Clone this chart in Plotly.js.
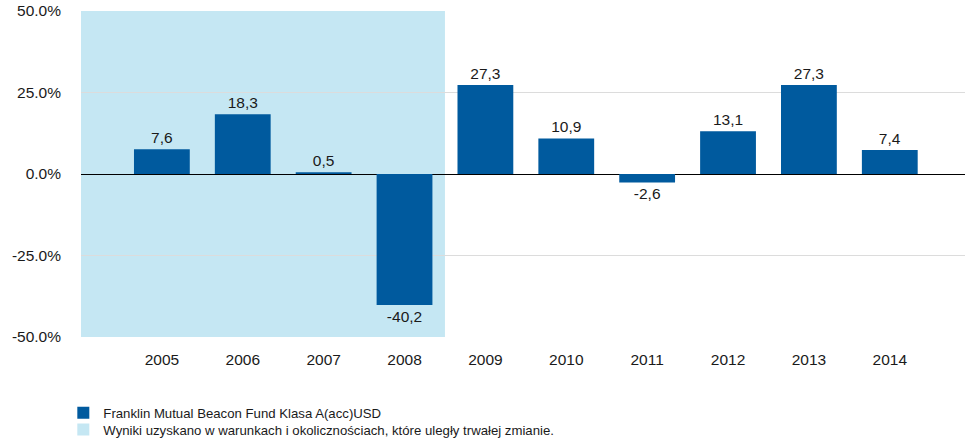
<!DOCTYPE html>
<html>
<head>
<meta charset="utf-8">
<script src="https://cdn.plot.ly/plotly-3.0.1.min.js"></script>
<style>html,body{margin:0;padding:0;background:#fff;}#chart{width:965px;height:446px;}</style>
</head>
<body>
<div id="chart"></div>
<script>
const years = [2005, 2006, 2007, 2008, 2009, 2010, 2011, 2012, 2013, 2014];
const returns = [7.6, 18.3, 0.5, -40.2, 27.3, 10.9, -2.6, 13.1, 27.3, 7.4];
const seriesName = 'Franklin Mutual Beacon Fund Klasa A(acc)USD';
const shadeName = 'Wyniki uzyskano w warunkach i okolicznościach, które uległy trwałej zmianie.';
const shadeStart = 2004;
const shadeEnd = 2008.5;
const yTicks = [-50, -25, 0, 25, 50];
const yTickLabels = ['-50.0%', '-25.0%', '0.0%', '25.0%', '50.0%'];

const FONT = '"Liberation Sans Narrow", "Arial Narrow", "Liberation Sans", Arial, sans-serif';
const BAR = '#005a9e';
const SHADE = '#c5e7f3';

const labels = returns.map(v => v.toFixed(1).replace('.', ','));

const traces = [
  {
    type: 'bar', x: years, y: returns, name: seriesName,
    width: 0.69,
    marker: {color: BAR},
    text: labels, textposition: 'outside', constraintext: 'none', cliponaxis: false,
    textfont: {family: FONT, size: 15.5, color: '#1a1a1a'},
    hoverinfo: 'skip', legend: 'legend'
  },
  {
    type: 'bar', x: [null], y: [null], name: shadeName,
    marker: {color: SHADE}, showlegend: true, legend: 'legend2', hoverinfo: 'skip'
  }
];

const layout = {
  width: 965, height: 446,
  margin: {l: 81, r: 0, t: 11, b: 109},
  paper_bgcolor: '#fff', plot_bgcolor: '#fff',
  font: {family: FONT, size: 15.5, color: '#1a1a1a'},
  showlegend: true,
  barmode: 'overlay',
  xaxis: {
    type: 'linear', range: [2004, 2014.93],
    tickvals: years, ticktext: years.map(String),
    showgrid: false, zeroline: false, showline: false, ticks: '',
    ticklabelstandoff: 11,
    tickfont: {family: FONT, size: 15.5, color: '#1a1a1a'}
  },
  yaxis: {
    range: [-50, 50], tickvals: yTicks, ticktext: yTickLabels,
    showgrid: true, gridcolor: '#dcdcdc', gridwidth: 1,
    zeroline: true, zerolinecolor: '#000', zerolinewidth: 1,
    showline: false, ticks: '', ticklabelstandoff: 19,
    tickfont: {family: FONT, size: 15.5, color: '#1a1a1a'}
  },
  shapes: [
    {type: 'rect', xref: 'x', yref: 'paper', x0: shadeStart, x1: shadeEnd, y0: 0, y1: 1,
     fillcolor: SHADE, line: {width: 0}, layer: 'below'}
  ],
  legend: {
    x: -0.02, y: -0.234, xanchor: 'left', yanchor: 'middle',
    bgcolor: 'rgba(0,0,0,0)', borderwidth: 0,
    font: {family: FONT, size: 13.2, color: '#1a1a1a'}
  },
  legend2: {
    x: -0.02, y: -0.285, xanchor: 'left', yanchor: 'middle',
    bgcolor: 'rgba(0,0,0,0)', borderwidth: 0,
    font: {family: FONT, size: 13.2, color: '#1a1a1a'}
  }
};

Plotly.newPlot('chart', traces, layout, {displayModeBar: false, staticPlot: true});
</script>
</body>
</html>
